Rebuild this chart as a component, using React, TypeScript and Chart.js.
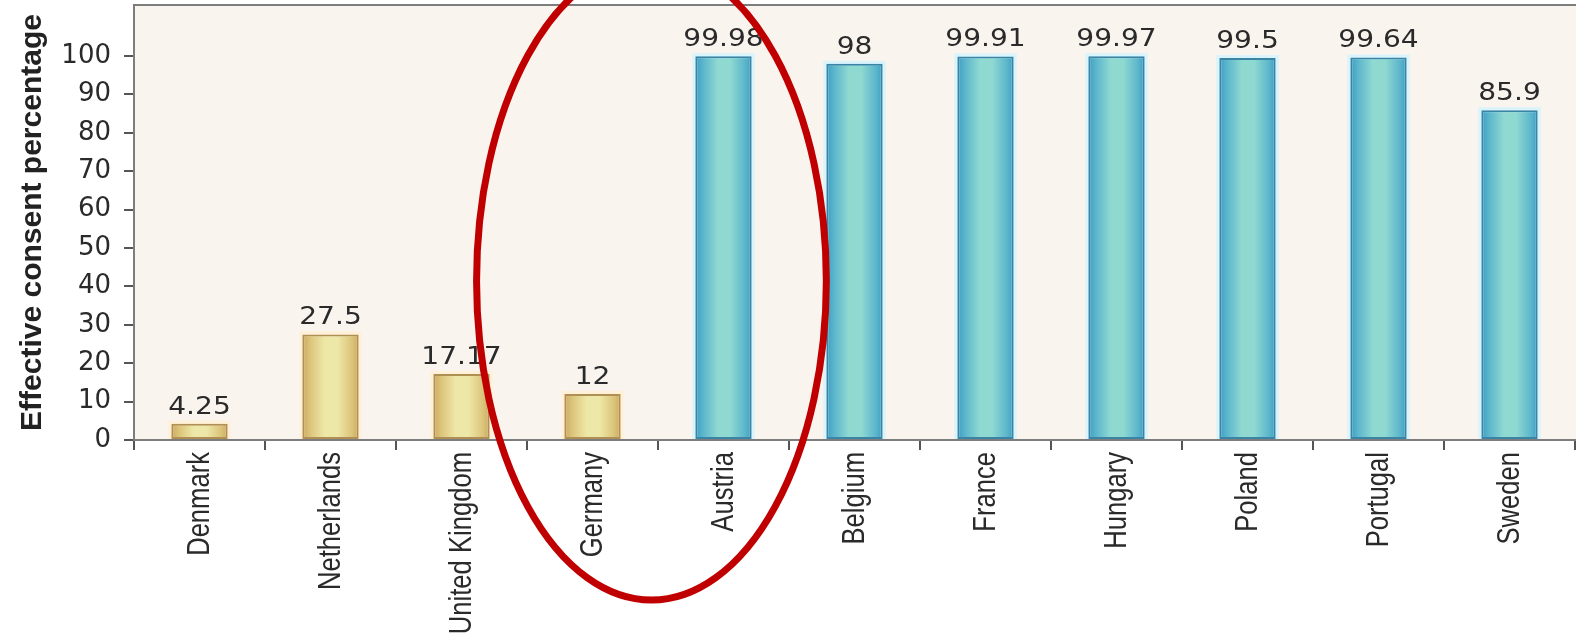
import React, { useEffect, useRef } from "react";
import { Chart, registerables } from "chart.js";

Chart.register(...registerables);

const categories = [
  "Denmark",
  "Netherlands",
  "United Kingdom",
  "Germany",
  "Austria",
  "Belgium",
  "France",
  "Hungary",
  "Poland",
  "Portugal",
  "Sweden",
];
const consentValues = [4.25, 27.5, 17.17, 12, 99.98, 98, 99.91, 99.97, 99.5, 99.64, 85.9];
const consentSystem = [
  "opt-in",
  "opt-in",
  "opt-in",
  "opt-in",
  "opt-out",
  "opt-out",
  "opt-out",
  "opt-out",
  "opt-out",
  "opt-out",
  "opt-out",
];
const yTickValues = [0, 10, 20, 30, 40, 50, 60, 70, 80, 90, 100];
const yAxisTitle = "Effective consent percentage";
const Y_MAX = 113.3;
const BAR_PCT = 0.43;

const palette: Record<string, { edge: string; edge2: string; mid: string; border: string; halo: string }> = {
  "opt-in": {
    edge: "#cba95f",
    edge2: "#dcc47a",
    mid: "#eee8a8",
    border: "#b08f55",
    halo: "rgba(255,240,212,0.9)",
  },
  "opt-out": {
    edge: "#3e9ec2",
    edge2: "#5cb6cc",
    mid: "#8fd9d1",
    border: "#3a84a6",
    halo: "#daf4fb",
  },
};

function barFill(context: any) {
  const chart = context.chart;
  const i = context.dataIndex;
  const p = palette[consentSystem[i]] || palette["opt-out"];
  const xs = chart.scales && chart.scales.x;
  if (!chart.chartArea || !xs || i === undefined) return p.mid;
  const cw = xs.width / categories.length;
  const bw = cw * BAR_PCT;
  const c = xs.getPixelForValue(i);
  if (!isFinite(c)) return p.mid;
  const g = chart.ctx.createLinearGradient(c - bw / 2, 0, c + bw / 2, 0);
  g.addColorStop(0, p.edge);
  g.addColorStop(0.14, p.edge2);
  g.addColorStop(0.4, p.mid);
  g.addColorStop(0.62, p.mid);
  g.addColorStop(0.88, p.edge2);
  g.addColorStop(1, p.edge);
  return g;
}

const framePlugin = {
  id: "frame",
  beforeDraw(chart: any) {
    const { ctx, chartArea, width } = chart;
    if (!chartArea) return;
    ctx.save();
    ctx.fillStyle = "#faf4ef";
    ctx.fillRect(chartArea.left, chartArea.top, width - chartArea.left, chartArea.bottom - chartArea.top);
    ctx.restore();
  },
  beforeDatasetsDraw(chart: any) {
    const { ctx } = chart;
    const meta = chart.getDatasetMeta(0);
    ctx.save();
    meta.data.forEach((el: any, i: number) => {
      const p = palette[consentSystem[i]];
      const w = el.width;
      ctx.fillStyle = p.halo;
      ctx.fillRect(el.x - w / 2 - 3, el.y - 3, w + 6, el.base - el.y + 3);
    });
    ctx.restore();
  },
  afterDatasetsDraw(chart: any) {
    const { ctx, chartArea, width } = chart;
    const meta = chart.getDatasetMeta(0);
    ctx.save();
    ctx.fillStyle = "#2a2a2a";
    ctx.textAlign = "center";
    ctx.textBaseline = "alphabetic";
    ctx.font = "24px 'DejaVu Sans'";
    meta.data.forEach((el: any, i: number) => {
      ctx.save();
      ctx.translate(el.x, el.y - 10);
      ctx.scale(1.17, 1);
      ctx.fillText(String(consentValues[i]), 0, 0);
      ctx.restore();
    });
    ctx.strokeStyle = "#7d7d7d";
    ctx.lineWidth = 2;
    ctx.beginPath();
    ctx.moveTo(chartArea.left - 1, chartArea.top);
    ctx.lineTo(width, chartArea.top);
    ctx.stroke();
    ctx.restore();
  },
  afterDraw(chart: any) {
    const { ctx, chartArea } = chart;
    const xs = chart.scales.x;
    // category labels, rotated, drawn at the category scale positions
    ctx.save();
    ctx.fillStyle = "#2a2a2a";
    ctx.font = "32px 'Liberation Sans', Arial, sans-serif";
    ctx.textAlign = "right";
    ctx.textBaseline = "middle";
    categories.forEach((label, i) => {
      const x = xs.getPixelForValue(i);
      ctx.save();
      ctx.translate(x + 1, chartArea.bottom + 12);
      ctx.rotate(-Math.PI / 2);
      ctx.scale(0.8, 1);
      ctx.fillText(label, 0, 0);
      ctx.restore();
    });
    ctx.restore();

    const cw = xs.width / categories.length;
    const gi = categories.indexOf("Germany");
    const ai = categories.indexOf("Austria");
    const cx = (xs.getPixelForValue(gi) + xs.getPixelForValue(ai)) / 2 - 0.05 * cw;
    const cy = chart.scales.y.getPixelForValue(41.4);
    ctx.save();
    ctx.strokeStyle = "#c00000";
    ctx.lineWidth = 7;
    ctx.beginPath();
    ctx.ellipse(cx, cy, 1.335 * cw, 319, 0, 0, Math.PI * 2);
    ctx.stroke();
    ctx.restore();
  },
};

export default function App() {
  const ref = useRef<HTMLCanvasElement | null>(null);

  useEffect(() => {
    if (!ref.current) return;
    const chart = new Chart(ref.current, {
      type: "bar",
      data: {
        labels: categories,
        datasets: [
          {
            data: consentValues,
            backgroundColor: barFill,
            borderColor: (c: any) => palette[consentSystem[c.dataIndex]]?.border || "#3a84a6",
            borderWidth: 2,
            borderSkipped: false,
            barPercentage: BAR_PCT,
            categoryPercentage: 1,
          },
        ],
      },
      options: {
        animation: false,
        responsive: true,
        maintainAspectRatio: false,
        layout: { padding: { top: 5, right: 1, left: 0, bottom: 0 } },
        plugins: {
          legend: { display: false },
          tooltip: { enabled: false },
        },
        scales: {
          x: {
            grid: {
              display: true,
              offset: true,
              drawOnChartArea: false,
              drawTicks: true,
              tickLength: 10,
              color: "#555",
              lineWidth: 2,
            },
            border: { display: true, color: "#7d7d7d", width: 2 },
            ticks: {
              display: false,
              autoSkip: false,
            },
            afterFit: (s: any) => {
              s.height = 200;
              s.paddingLeft = 0;
              s.paddingRight = 0;
              s.paddingTop = 0;
              s.paddingBottom = 0;
            },
          },
          y: {
            min: 0,
            max: Y_MAX,
            afterBuildTicks: (s: any) => {
              s.ticks = yTickValues.map((v) => ({ value: v }));
            },
            grid: {
              display: true,
              drawOnChartArea: false,
              drawTicks: true,
              tickLength: 10,
              color: "#555",
              lineWidth: 2,
            },
            border: { display: true, color: "#7d7d7d", width: 2 },
            ticks: {
              padding: 13,
              color: "#2a2a2a",
              font: { family: "'DejaVu Sans'", size: 26 },
            },
            title: {
              display: true,
              text: yAxisTitle,
              color: "#222",
              padding: { top: 15, bottom: 0 },
              font: { family: "'Liberation Sans', Arial, sans-serif", size: 30, weight: "bold" },
            },
            afterFit: (s: any) => {
              s.width = 134;
              s.paddingTop = 0;
              s.paddingBottom = 0;
              s.paddingLeft = 0;
              s.paddingRight = 0;
            },
          },
        },
      },
      plugins: [framePlugin],
    });
    return () => chart.destroy();
  }, []);

  return (
    <div
      style={{
        position: "fixed",
        left: 0,
        top: 0,
        width: "1576px",
        height: "640px",
        background: "#ffffff",
        overflow: "hidden",
      }}
    >
      <canvas ref={ref} />
    </div>
  );
}
